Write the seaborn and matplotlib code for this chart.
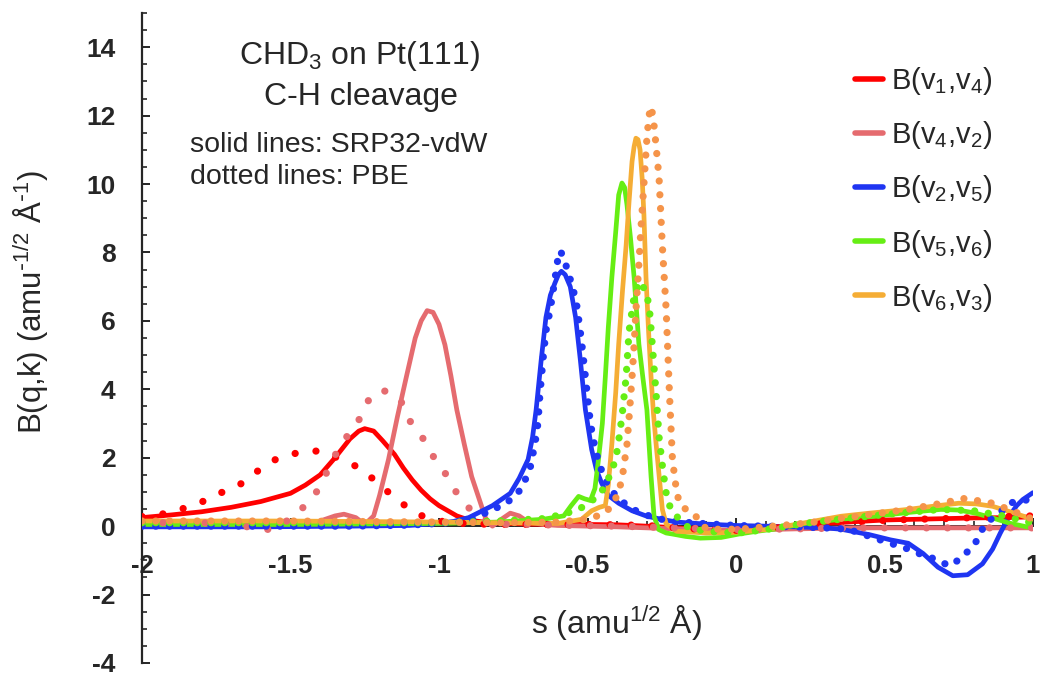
import numpy as np
import pandas as pd
import matplotlib
matplotlib.use("Agg")
import matplotlib.pyplot as plt
from matplotlib.ticker import MultipleLocator
import seaborn as sns

# ---------------- data ----------------
series_labels = ["B(v$_1$,v$_4$)", "B(v$_4$,v$_2$)", "B(v$_2$,v$_5$)",
                 "B(v$_5$,v$_6$)", "B(v$_6$,v$_3$)"]

# B(v1,v4)
red_srp_x = [-2.0, -1.9, -1.8, -1.7, -1.6, -1.5, -1.45, -1.4, -1.35, -1.3, -1.27, -1.25, -1.22,
             -1.19, -1.15, -1.12, -1.09, -1.06, -1.03, -1.0, -0.97, -0.94, -0.9, -0.85, -0.8,
             -0.7, -0.6, -0.5, -0.4, -0.3, -0.2, -0.1, 0.0, 0.1, 0.2, 0.3, 0.4, 0.5, 0.6, 0.7,
             0.8, 0.9, 1.0]
red_srp_y = [0.25, 0.33, 0.42, 0.55, 0.72, 0.96, 1.2, 1.5, 2.0, 2.55, 2.78, 2.85, 2.78,
             2.5, 2.1, 1.7, 1.35, 1.05, 0.8, 0.6, 0.45, 0.3, 0.18, 0.12, 0.09,
             0.06, 0.05, 0.05, 0.04, 0.0, -0.05, -0.12, -0.15, -0.1, 0.0, 0.08, 0.13, 0.18, 0.2, 0.22,
             0.24, 0.25, 0.27]
red_pbe_x = [-2.0, -1.95, -1.9, -1.85, -1.8, -1.75, -1.7, -1.65, -1.6, -1.55, -1.5, -1.45, -1.42,
             -1.38, -1.34, -1.3, -1.25, -1.2, -1.15, -1.1, -1.05, -1.0, -0.95, -0.9, -0.8, -0.7,
             -0.6, -0.5, -0.4, -0.3, -0.2, -0.1, 0.0, 0.1, 0.2, 0.3, 0.4, 0.5, 0.6, 0.7, 0.8, 0.9, 1.0]
red_pbe_y = [0.28, 0.33, 0.4, 0.55, 0.7, 0.93, 1.08, 1.32, 1.69, 1.95, 2.1, 2.18, 2.2,
             2.16, 1.98, 1.85, 1.6, 1.2, 0.85, 0.5, 0.27, 0.15, 0.1, 0.07, 0.05, 0.05,
             0.05, 0.05, 0.04, 0.02, -0.05, -0.1, -0.12, -0.08, 0.0, 0.08, 0.12, 0.17, 0.2, 0.22, 0.25, 0.28, 0.3]

# B(v4,v2)
pink_srp_x = [-2.0, -1.8, -1.6, -1.45, -1.4, -1.35, -1.32, -1.28, -1.25, -1.22, -1.2, -1.17, -1.14,
              -1.11, -1.08, -1.06, -1.04, -1.02, -1.0, -0.98, -0.96, -0.94, -0.915, -0.89, -0.86,
              -0.84, -0.82, -0.79, -0.76, -0.73, -0.7, -0.65, -0.6, -0.5, -0.4, -0.3, -0.2, -0.1,
              0.0, 0.2, 0.4, 0.6, 0.8, 1.0]
pink_srp_y = [0.08, 0.08, 0.06, 0.05, 0.15, 0.3, 0.35, 0.25, 0.05, 0.3, 0.9, 1.95, 3.2,
              4.36, 5.5, 6.0, 6.3, 6.25, 5.9, 5.3, 4.4, 3.4, 2.4, 1.45, 0.67,
              0.15, 0.0, 0.2, 0.38, 0.3, 0.12, 0.05, 0.02, 0.0, -0.02, -0.05, -0.08, -0.1,
              -0.12, -0.08, -0.05, -0.05, -0.05, -0.05]
pink_pbe_x = [-2.0, -1.8, -1.7, -1.62, -1.57, -1.52, -1.47, -1.44, -1.415, -1.38, -1.34, -1.3,
              -1.27, -1.235, -1.2, -1.167, -1.13, -1.1, -1.07, -1.04, -1.007, -0.97, -0.94,
              -0.905, -0.87, -0.83, -0.78, -0.7, -0.6, -0.4, -0.2, 0.0, 0.2, 0.4, 0.6, 0.8, 1.0]
pink_pbe_y = [0.1, 0.1, 0.05, -0.05, -0.1, 0.1, 0.44, 0.7, 0.96, 1.54, 2.24, 2.75,
              3.1, 3.72, 3.98, 3.92, 3.69, 3.1, 2.75, 2.4, 1.83, 1.45, 0.96,
              0.58, 0.29, 0.12, 0.05, 0.05, 0.03, 0.0, -0.05, -0.1, -0.08, -0.05, -0.05, -0.05, -0.05]

# B(v2,v5)
blue_srp_x = [-2.0, -1.6, -1.3, -1.1, -1.0, -0.95, -0.9, -0.87, -0.82, -0.76, -0.73, -0.70,
              -0.685, -0.673, -0.656, -0.64, -0.625, -0.61, -0.598, -0.588, -0.575, -0.558,
              -0.54, -0.524, -0.507, -0.486, -0.47, -0.452, -0.43, -0.395, -0.35, -0.3, -0.25,
              -0.2, -0.1, 0.0, 0.1, 0.2, 0.3, 0.354, 0.45, 0.52, 0.58, 0.63, 0.68, 0.73, 0.78,
              0.83, 0.864, 0.89, 0.92, 0.945, 0.966, 1.0]
blue_srp_y = [-0.02, -0.02, 0.0, 0.02, 0.08, 0.14, 0.25, 0.38, 0.6, 0.96, 1.4, 1.95,
              2.6, 3.4, 4.85, 6.1, 6.75, 7.1, 7.35, 7.45, 7.35, 7.0,
              6.1, 4.85, 3.4, 2.24, 1.65, 1.25, 0.9, 0.67, 0.45, 0.29, 0.2,
              0.12, 0.06, 0.02, 0.0, -0.02, -0.05, -0.09, -0.25, -0.4, -0.5, -0.8, -1.2, -1.45, -1.42,
              -1.1, -0.67, -0.2, 0.29, 0.6, 0.78, 0.98]
blue_pbe_x = [-2.0, -1.6, -1.3, -1.1, -1.0, -0.95, -0.9, -0.86, -0.826, -0.79, -0.758, -0.724,
              -0.694, -0.677, -0.667, -0.66, -0.65, -0.64, -0.626, -0.61, -0.6, -0.592, -0.58,
              -0.565, -0.55, -0.535, -0.52, -0.505, -0.49, -0.475, -0.46, -0.44, -0.42, -0.395,
              -0.35, -0.3, -0.25, -0.2, -0.1, 0.0, 0.1, 0.2, 0.3, 0.378, 0.45, 0.52, 0.58, 0.63,
              0.67, 0.718, 0.76, 0.806, 0.84, 0.888, 0.92, 0.96, 1.0]
blue_pbe_y = [0.0, 0.0, 0.0, 0.03, 0.08, 0.11, 0.15, 0.29, 0.49, 0.58, 0.78, 1.08,
              1.66, 2.4, 3.0, 3.87, 4.85, 5.7, 6.3, 7.2, 7.8, 8.05, 7.85,
              7.4, 7.0, 6.4, 5.4, 4.2, 3.0, 2.3, 1.8, 1.35, 1.05, 0.8,
              0.5, 0.32, 0.2, 0.13, 0.07, 0.02, 0.0, -0.02, -0.05, -0.09, -0.3, -0.5, -0.67, -0.85,
              -0.96, -1.16, -0.93, -0.49, 0.09, 0.38, 0.67, 0.75, 0.78]

# B(v5,v6)
green_srp_x = [-2.0, -1.5, -1.0, -0.8, -0.65, -0.58, -0.555, -0.53, -0.51, -0.49, -0.475, -0.463,
               -0.45, -0.44, -0.43, -0.418, -0.405, -0.395, -0.384, -0.375, -0.367, -0.355, -0.343,
               -0.327, -0.313, -0.3, -0.286, -0.276, -0.26, -0.235, -0.214, -0.17, -0.12, -0.05,
               0.01, 0.07, 0.126, 0.24, 0.35, 0.466, 0.58, 0.69, 0.75, 0.806, 0.86, 0.92, 1.0]
green_srp_y = [0.05, 0.05, 0.08, 0.12, 0.2, 0.3, 0.6, 0.87, 0.8, 0.75, 1.1, 1.95,
               3.0, 4.36, 5.8, 7.27, 8.6, 9.68, 10.03, 9.9, 9.39, 8.4, 7.27,
               5.32, 4.3, 3.4, 1.45, 0.29, -0.1, -0.2, -0.23, -0.3, -0.35, -0.33,
               -0.23, -0.15, -0.09, 0.09, 0.2, 0.29, 0.4, 0.49, 0.47, 0.38, 0.25, 0.09, -0.06]
green_pbe_x = [-2.0, -1.5, -1.0, -0.8, -0.65, -0.58, -0.53, -0.49, -0.46, -0.44, -0.42, -0.405,
               -0.395, -0.384, -0.37, -0.36, -0.345, -0.327, -0.313, -0.3, -0.29, -0.282, -0.269,
               -0.259, -0.247, -0.235, -0.22, -0.2, -0.18, -0.157, -0.1, 0.01, 0.1, 0.24, 0.4,
               0.55, 0.69, 0.8, 0.9, 1.0]
green_pbe_y = [0.1, 0.1, 0.1, 0.15, 0.22, 0.35, 0.49, 0.7, 0.95, 1.16, 1.6, 1.95,
               2.5, 3.2, 4.36, 5.7, 6.6, 7.15, 7.0, 6.8, 6.2, 5.32, 3.87,
               2.6, 1.7, 0.96, 0.5, 0.29, 0.1, -0.06, -0.15, -0.2, -0.1, 0.09, 0.25,
               0.38, 0.49, 0.45, 0.3, 0.09]

# B(v6,v3)
orange_srp_x = [-2.0, -1.5, -1.0, -0.8, -0.6, -0.52, -0.486, -0.46, -0.44, -0.43, -0.418, -0.405,
                -0.395, -0.382, -0.37, -0.36, -0.35, -0.343, -0.337, -0.33, -0.323, -0.316, -0.31,
                -0.303, -0.295, -0.286, -0.278, -0.269, -0.258, -0.248, -0.235, -0.2, -0.1, 0.0,
                0.1, 0.2, 0.354, 0.45, 0.58, 0.68, 0.75, 0.81, 0.864, 0.93, 1.0]
orange_srp_y = [0.15, 0.15, 0.12, 0.1, 0.08, 0.2, 0.45, 0.55, 0.6, 1.2, 2.4, 3.9,
                5.32, 6.9, 8.2, 9.5, 10.66, 11.1, 11.34, 11.3, 11.0, 10.17, 9.1,
                7.27, 5.8, 4.36, 3.3, 2.4, 1.4, 0.49, 0.06, -0.15, -0.2, -0.18,
                -0.1, 0.05, 0.29, 0.38, 0.49, 0.6, 0.67, 0.65, 0.58, 0.4, 0.2]
orange_pbe_x = [-2.0, -1.5, -1.0, -0.8, -0.6, -0.5, -0.45, -0.43, -0.41, -0.395, -0.38, -0.367,
                -0.358, -0.35, -0.343, -0.337, -0.328, -0.32, -0.31, -0.3, -0.293, -0.286, -0.278,
                -0.269, -0.259, -0.248, -0.235, -0.224, -0.214, -0.2, -0.19, -0.17, -0.146, -0.12,
                -0.1, 0.01, 0.1, 0.24, 0.4, 0.58, 0.68, 0.77, 0.864, 0.93, 1.0]
orange_pbe_y = [0.15, 0.15, 0.12, 0.1, 0.12, 0.2, 0.35, 0.49, 0.75, 0.96, 1.6, 2.4,
                3.4, 4.36, 5.3, 6.3, 7.5, 8.72, 10.0, 11.34, 12.0, 12.27, 11.9,
                11.1, 10.17, 8.2, 6.3, 3.87, 1.95, 1.0, 0.67, 0.5, 0.38, 0.15,
                -0.09, -0.09, -0.02, 0.09, 0.28, 0.49, 0.65, 0.81, 0.67, 0.45, 0.2]

y_ticks = [-4, -2, 0, 2, 4, 6, 8, 10, 12, 14]
x_ticks = [-2, -1.5, -1, -0.5, 0, 0.5, 1]
x_ticklabels = ["-2", "-1.5", "-1", "-0.5", "0", "0.5", "1"]
y_ticklabels = ["-4", "-2", "0", "2", "4", "6", "8", "10", "12", "14"]

# ---------------- styling ----------------
sns.set_style("ticks")
plt.rcParams["font.family"] = ["Liberation Sans", "DejaVu Sans"]
plt.rcParams["mathtext.default"] = "regular"

colors_solid = ["#ff0000", "#e56b6f", "#1f35f2", "#66ee14", "#f5ad35"]
colors_dot = ["#ff0000", "#e56b6f", "#1f35f2", "#66ee14", "#f5944a"]
dot_gaps = [2.9, 2.9, 1.9, 1.9, 1.9]

solid_sets = [(red_srp_x, red_srp_y), (pink_srp_x, pink_srp_y), (blue_srp_x, blue_srp_y),
              (green_srp_x, green_srp_y), (orange_srp_x, orange_srp_y)]
dot_sets = [(red_pbe_x, red_pbe_y), (pink_pbe_x, pink_pbe_y), (blue_pbe_x, blue_pbe_y),
            (green_pbe_x, green_pbe_y), (orange_pbe_x, orange_pbe_y)]

fig = plt.figure(figsize=(10.4, 6.78), dpi=100)
ax = fig.add_axes([142 / 1040, 15 / 678, 891 / 1040, 650 / 678])

for i in range(5):
    sx, sy = solid_sets[i]
    sns.lineplot(x=np.array(sx), y=np.array(sy), ax=ax, color=colors_solid[i], lw=3.4,
                 estimator=None, sort=False, label=series_labels[i], zorder=3,
                 solid_capstyle="round")
for i in range(5):
    dx, dy = dot_sets[i]
    sns.lineplot(x=np.array(dx), y=np.array(dy), ax=ax, color=colors_dot[i], lw=5.2,
                 estimator=None, sort=False, label="_nolegend_", zorder=3,
                 linestyle=(0, (0.01, dot_gaps[i])), dash_capstyle="round")

ax.set_xlim(-2, 1)
ax.set_ylim(-4, 15)
for s in ["top", "right"]:
    ax.spines[s].set_visible(False)
ax.spines["bottom"].set_position(("data", 0))
ax.spines["bottom"].set_zorder(1)
ax.spines["left"].set_linewidth(1.6)
ax.spines["bottom"].set_linewidth(1.4)

ax.set_xticks(x_ticks)
ax.set_xticklabels(x_ticklabels)
ax.set_yticks(y_ticks)
ax.set_yticklabels(y_ticklabels)
ax.xaxis.set_minor_locator(MultipleLocator(0.1))
ax.yaxis.set_minor_locator(MultipleLocator(0.5))
ax.tick_params(axis="both", which="major", direction="in", length=6, width=1.4,
               labelsize=19)
ax.tick_params(axis="both", which="minor", direction="in", length=3.5, width=1.2)
ax.tick_params(axis="x", which="major", pad=20, labelsize=18.5)
ax.tick_params(axis="y", which="major", pad=19)
for lab in ax.get_xticklabels() + ax.get_yticklabels():
    lab.set_fontweight("bold")

ax.set_xlabel("s (amu$^{1/2}$ Å)", fontsize=23, va="top")
ax.set_ylabel(r"B(q,k) (amu$^{\text{-}1/2}$ Å$^{\text{-}1}$)", fontsize=22.5, va="bottom")
ax.xaxis.set_label_coords(0.533, 0.092)
ax.yaxis.set_label_coords(-0.103, 0.556)

fig.text(360 / 1040, 1 - 56 / 678, "CHD$_3$ on Pt(111)", fontsize=23, ha="center", va="center")
fig.text(361 / 1040, 1 - 97 / 678, "C-H cleavage", fontsize=23, ha="center", va="center")
fig.text(190 / 1040, 1 - 145 / 678, "solid lines: SRP32-vdW", fontsize=20.5, ha="left", va="center")
fig.text(190 / 1040, 1 - 177 / 678, "dotted lines: PBE", fontsize=20.5, ha="left", va="center")

leg = ax.legend(loc="upper left", bbox_to_anchor=(855 / 1040, 1 - 65 / 678),
                bbox_transform=fig.transFigure, frameon=False, fontsize=21,
                handlelength=0.95, handletextpad=0.3, labelspacing=0.76,
                borderpad=0, borderaxespad=0)
for h in leg.get_lines():
    h.set_linewidth(4)

fig.savefig("out.png", dpi=100)
